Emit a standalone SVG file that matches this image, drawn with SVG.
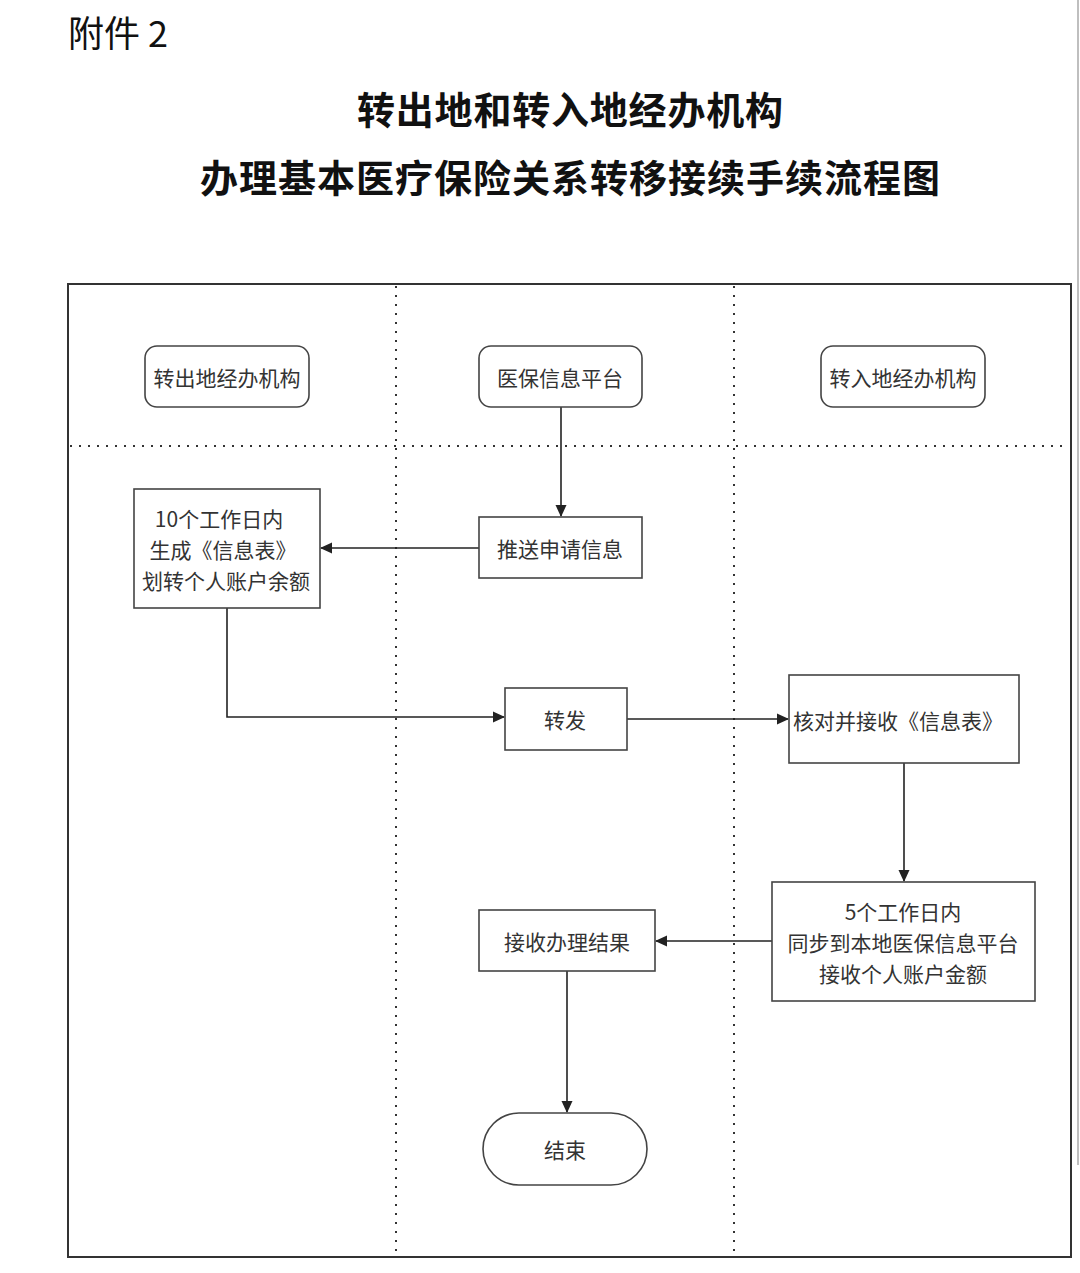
<svg xmlns="http://www.w3.org/2000/svg" width="1080" height="1273" viewBox="0 0 1080 1273">
<style>
.t{font-family:"Noto Sans CJK SC","Liberation Sans",sans-serif;font-size:21px;fill:#333;text-anchor:middle;dominant-baseline:central}
.box{fill:#fff;stroke:#444;stroke-width:1.6}
.lane{stroke:#333;stroke-width:2;stroke-dasharray:2 7;fill:none}
.con{stroke:#222;stroke-width:1.6;fill:none}
.title{font-family:"Noto Sans CJK SC",sans-serif;font-weight:700;font-size:38px;fill:#111;text-anchor:middle}
</style>
<defs>
<marker id="arr" markerWidth="12" markerHeight="12" refX="11" refY="6" orient="auto" markerUnits="userSpaceOnUse">
<path d="M0,0.5 L12,6 L0,11.5 Z" fill="#222"/>
</marker>
</defs>
<rect width="1080" height="1273" fill="#fff"/>
<line x1="1078" y1="0" x2="1078" y2="1165" stroke="#aaa" stroke-width="1.5"/>
<text x="68" y="47" font-family="'Noto Sans CJK SC',sans-serif" font-size="36" fill="#111">附件 2</text>
<text class="title" x="570" y="124" textLength="426">转出地和转入地经办机构</text>
<text class="title" x="570" y="192" textLength="740">办理基本医疗保险关系转移接续手续流程图</text>
<g id="frame">
<rect x="68" y="284" width="1003" height="973" fill="none" stroke="#333" stroke-width="2"/>
<line class="lane" x1="396" y1="286" x2="396" y2="1255"/>
<line class="lane" x1="734" y1="286" x2="734" y2="1255"/>
<line class="lane" x1="70" y1="446" x2="1069" y2="446"/>
</g>
<g id="connectors">
<line class="con" x1="561" y1="407" x2="561" y2="516" marker-end="url(#arr)"/>
<line class="con" x1="479" y1="548" x2="321" y2="548" marker-end="url(#arr)"/>
<polyline class="con" points="227,608 227,717 504,717" marker-end="url(#arr)"/>
<line class="con" x1="627" y1="719" x2="788" y2="719" marker-end="url(#arr)"/>
<line class="con" x1="904" y1="763" x2="904" y2="881" marker-end="url(#arr)"/>
<line class="con" x1="772" y1="941" x2="656" y2="941" marker-end="url(#arr)"/>
<line class="con" x1="567" y1="971" x2="567" y2="1112" marker-end="url(#arr)"/>
</g>
<g id="lane-out">
<rect class="box" x="145" y="346" width="164" height="61" rx="12"/>
<text class="t" x="227" y="377">转出地经办机构</text>
</g>
<g id="lane-platform">
<rect class="box" x="479" y="346" width="163" height="61" rx="12"/>
<text class="t" x="560" y="377">医保信息平台</text>
</g>
<g id="lane-in">
<rect class="box" x="821" y="346" width="164" height="61" rx="12"/>
<text class="t" x="903" y="377">转入地经办机构</text>
</g>
<g id="n-generate">
<rect class="box" x="134" y="489" width="186" height="119"/>
<text class="t" x="219" y="518">10个工作日内</text>
<text class="t" x="223" y="549">生成《信息表》</text>
<text class="t" x="226" y="580">划转个人账户余额</text>
</g>
<g id="n-push">
<rect class="box" x="479" y="517" width="163" height="61"/>
<text class="t" x="560" y="548">推送申请信息</text>
</g>
<g id="n-forward">
<rect class="box" x="505" y="688" width="122" height="62"/>
<text class="t" x="565" y="719">转发</text>
</g>
<g id="n-check">
<rect class="box" x="789" y="675" width="230" height="88"/>
<text class="t" x="898" y="720">核对并接收《信息表》</text>
</g>
<g id="n-sync">
<rect class="box" x="772" y="882" width="263" height="119"/>
<text class="t" x="903" y="911">5个工作日内</text>
<text class="t" x="903" y="942">同步到本地医保信息平台</text>
<text class="t" x="903" y="973">接收个人账户金额</text>
</g>
<g id="n-result">
<rect class="box" x="479" y="910" width="176" height="61"/>
<text class="t" x="567" y="941">接收办理结果</text>
</g>
<g id="n-end">
<rect class="box" x="483" y="1113" width="164" height="72" rx="36"/>
<text class="t" x="565" y="1149">结束</text>
</g>
</svg>
